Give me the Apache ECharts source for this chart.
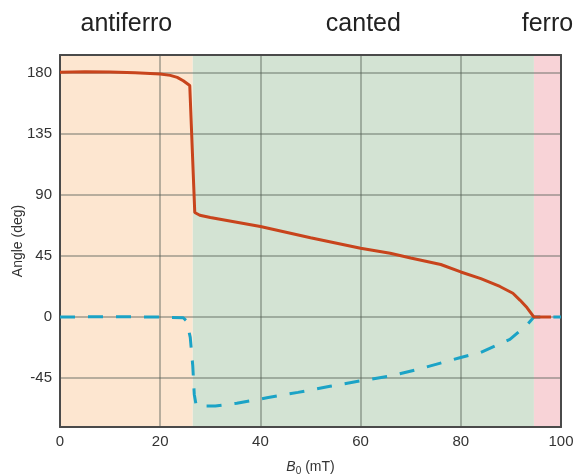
<!DOCTYPE html>
<html><head><meta charset="utf-8">
<script src="https://cdn.jsdelivr.net/npm/echarts@6/dist/echarts.min.js"></script>
<style>html,body{margin:0;padding:0;background:#fff}#c{width:573px;height:475px}</style>
</head><body><div id="c"></div>
<script>
const phaseNames = ['antiferro', 'canted', 'ferro'];
const phaseBounds = [0, 26.5, 94.6, 100];
const phaseColors = ['#fde6d0', '#d3e3d3', '#f8d3d7'];
const xTicks = [0, 20, 40, 60, 80, 100];
const yTicks = [-45, 0, 45, 90, 135, 180];
const redX = [0, 5, 10, 15, 20, 22, 23.4, 24.6, 25.9, 26.9, 27.9, 30, 35, 40, 50, 60, 65.9, 70, 76, 80, 84, 87.8, 90.4, 91.8, 93.2, 94.6, 98];
const redY = [180.3, 180.6, 180.4, 180, 179, 178, 176.5, 174, 170.5, 77, 75, 73.3, 70, 66.7, 58.4, 50.6, 47, 43.5, 38.7, 33.2, 28.3, 22.5, 17.5, 12.5, 7, 0, 0];
const blueX = [0, 10, 20, 24.6, 25.3, 26.0, 26.5, 26.8, 27.2, 31, 35.3, 41.3, 47.5, 53.9, 60.3, 65.9, 72, 79.8, 84, 89.8, 93.4, 94.6, 100];
const blueY = [0, 0.3, 0, -0.5, -3, -15, -36, -57, -65.5, -65.5, -63.5, -59.5, -55.5, -51, -46.8, -43.5, -38, -30, -26, -16.5, -5, 0, 0];

const font = 'Liberation Sans, Arial, Helvetica, sans-serif';
const zip = (xs, ys) => xs.map((x, i) => [x, ys[i]]);
const areas = phaseNames.map((n, i) => [
  {name: n, xAxis: phaseBounds[i], yAxis: -81, itemStyle: {color: phaseColors[i]}},
  {xAxis: phaseBounds[i + 1], yAxis: 193}
]);
const gridLine = {color: 'rgba(85,95,85,0.42)', width: 2};

const chart = echarts.init(document.getElementById('c'), null, {renderer: 'canvas'});
chart.setOption({
  animation: false,
  grid: {left: 60, right: 12, top: 55, bottom: 48, containLabel: false, outerBoundsMode: 'none'},
  xAxis: [{
    type: 'value', min: 0, max: 100, interval: 20, z: 3,
    name: '{i|B}{s|0} (mT)', nameLocation: 'middle', nameGap: 31,
    nameTextStyle: {color: '#333', fontFamily: font, fontSize: 14,
      rich: {i: {fontStyle: 'italic', fontSize: 14, color: '#333', fontFamily: font},
             s: {fontSize: 10, verticalAlign: 'bottom', padding: [8, 0, 0, 0], color: '#333', fontFamily: font}}},
    axisLine: {show: true, onZero: false, lineStyle: {color: '#4a4a4a', width: 2}},
    axisTick: {show: false},
    axisLabel: {color: '#333', fontSize: 15, fontFamily: font, margin: 7, customValues: xTicks},
    splitLine: {show: true, lineStyle: gridLine}
  }, {
    type: 'value', min: 0, max: 100, position: 'top', z: 3,
    axisLine: {show: true, onZero: false, lineStyle: {color: '#4a4a4a', width: 2}},
    axisTick: {show: false}, axisLabel: {show: false}, splitLine: {show: false}
  }],
  yAxis: [{
    type: 'value', min: -81, max: 193, z: 3,
    name: 'Angle (deg)', nameLocation: 'middle', nameGap: 35, nameMoveOverlap: false,
    nameTextStyle: {color: '#333', fontFamily: font, fontSize: 14},
    axisLine: {show: true, onZero: false, lineStyle: {color: '#4a4a4a', width: 2}},
    axisTick: {show: false, customValues: yTicks},
    axisLabel: {color: '#333', fontSize: 15, fontFamily: font, margin: 8, customValues: yTicks},
    splitLine: {show: true, lineStyle: gridLine}
  }, {
    type: 'value', min: -81, max: 193, position: 'right', z: 3,
    axisLine: {show: true, onZero: false, lineStyle: {color: '#4a4a4a', width: 2}},
    axisTick: {show: false}, axisLabel: {show: false}, splitLine: {show: false}
  }],
  series: [{
    type: 'line', data: [], silent: true,
    markArea: {
      silent: true, z: 1,
      label: {show: true, position: 'top', distance: 18, color: '#222', fontSize: 25, fontFamily: font},
      data: areas
    }
  }, {
    type: 'line', z: 5, data: zip(blueX, blueY), showSymbol: false, symbol: 'none',
    lineStyle: {color: '#1ba3c6', width: 3, type: [15, 13]}
  }, {
    type: 'line', z: 6, data: zip(redX, redY), showSymbol: false, symbol: 'none',
    lineStyle: {color: '#c8441c', width: 3}
  }]
});
</script></body></html>
